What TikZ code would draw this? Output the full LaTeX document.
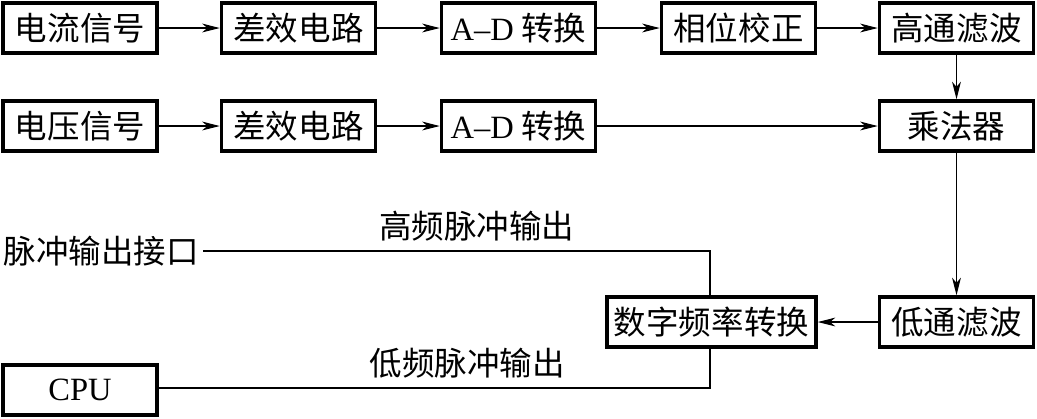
\documentclass[tikz,border=0pt]{standalone}
\usepackage{fontspec}
\setmainfont{Liberation Serif}
\newfontfamily\cjk{Noto Sans CJK SC}
\usetikzlibrary{arrows.meta}

\tikzset{
  blockbox/.style={draw, line width=2pt, minimum width=3.08cm, minimum height=1.0cm, inner sep=0pt, font=\fontsize{18.5}{21}\selectfont\cjk},
  flow/.style={line width=0.6pt, -{Stealth[length=10pt, width=5pt, inset=3pt]}},
  wire/.style={line width=0.6pt},
  plain/.style={font=\fontsize{18.5}{21}\selectfont\cjk, inner sep=2pt}
}

\begin{document}
\begin{tikzpicture}
    \useasboundingbox (0, 0) rectangle (20.74, -8.36);
    % first row
    \node[blockbox] (Isig) at (1.6, -0.56) {电流信号};
    \node[blockbox] (Idiff) at (5.97, -0.56) {差效电路};
    \node[blockbox] (Iad) at (10.37, -0.56) {{\rmfamily A--D} 转换};
    \node[blockbox] (Iphase) at (14.77, -0.56) {相位校正};
    \node[blockbox] (hpf) at (19.13, -0.56) {高通滤波};
    % second row
    \node[blockbox] (Usig) at (1.6, -2.52) {电压信号};
    \node[blockbox] (Udiff) at (5.97, -2.52) {差效电路};
    \node[blockbox] (Uad) at (10.37, -2.52) {{\rmfamily A--D} 转换};
    \node[blockbox] (mult) at (19.13, -2.52) {乘法器};
    % lower part
    \node[blockbox] (lpf) at (19.13, -6.44) {低通滤波};
    \node[blockbox, minimum width=4.18cm] (dfc) at (14.23, -6.44) {数字频率转换};
    \node[blockbox, font=\fontsize{18.5}{21}\selectfont\rmfamily] (cpu) at (1.6, -7.8) {CPU};
    \node[plain, anchor=west] (port) at (0.0, -5.02) {脉冲输出接口};
    \coordinate (hup) at (14.2, -5.02);
    \coordinate (hdown) at (14.2, -7.76);
    \coordinate (dtop) at (14.2, -5.92);
    \coordinate (dbot) at (14.2, -6.96);

    \draw[flow] (Isig) -- (Idiff);
    \draw[flow] (Idiff) -- (Iad);
    \draw[flow] (Iad) -- (Iphase);
    \draw[flow] (Iphase) -- (hpf);
    \draw[flow] (Usig) -- (Udiff);
    \draw[flow] (Udiff) -- (Uad);
    \draw[flow] (Uad) -- (mult);
    \draw[flow] (hpf) -- (mult);
    \draw[flow] (mult) -- (lpf);
    \draw[flow] (lpf) -- (dfc);
    \draw[wire] (dtop) -- (hup) -- node[plain, above=3pt, pos=0.46] {高频脉冲输出} (port.east);
    \draw[wire] (dbot) -- (hdown) -- node[plain, above=3pt, pos=0.44] {低频脉冲输出} (cpu.east |- hdown);
  \end{tikzpicture}
\end{document}
